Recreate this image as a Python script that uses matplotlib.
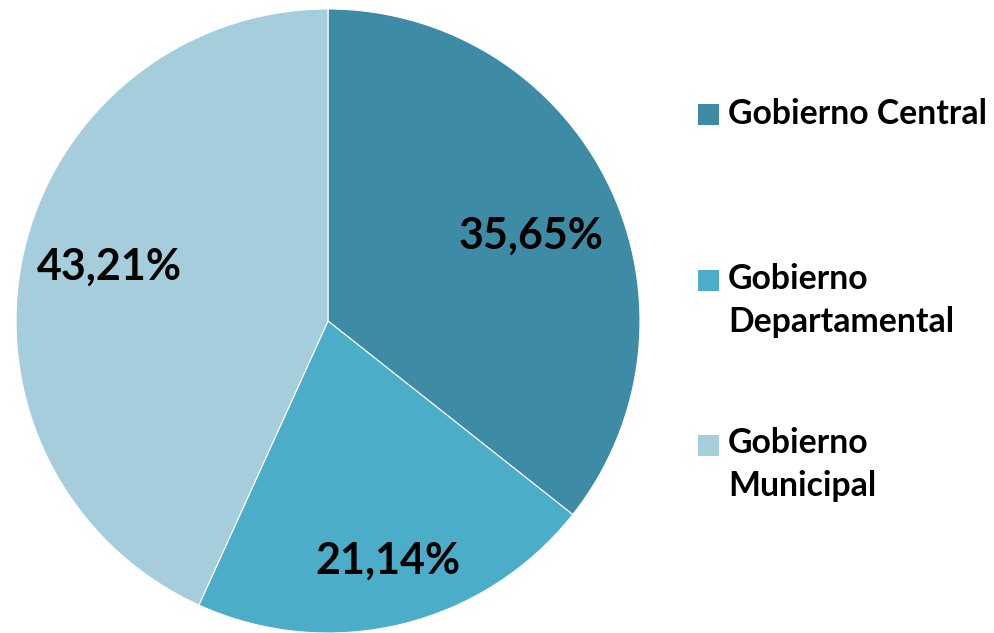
import numpy as np
import matplotlib.pyplot as plt
from matplotlib.patches import Rectangle

categories = ["Gobierno Central", "Gobierno Departamental", "Gobierno Municipal"]
legend_lines = [["Gobierno Central"], ["Gobierno", "Departamental"], ["Gobierno", "Municipal"]]
shares = [35.65, 21.14, 43.21]
colors = ["#3E8BA5", "#4BADC7", "#A6CDDC"]
# label placement: radial distance and angular nudge (degrees) from slice middle
label_dist = [0.706, 0.791, 0.723]
label_turn = [-3.0, 0.5, -1.8]

W, H = 994, 633
fig = plt.figure(figsize=(W / 100, H / 100), dpi=100)
fig.patch.set_facecolor("white")

cx, cy, r = 328, 321, 312
ax = fig.add_axes([(cx - r) / W, (H - cy - r) / H, 2 * r / W, 2 * r / H])
wedges, _ = ax.pie(shares, colors=colors, startangle=90, counterclock=False,
                   radius=1.0, wedgeprops=dict(edgecolor="white", linewidth=0.8))
ax.set_xlim(-1, 1)
ax.set_ylim(-1, 1)
ax.set_aspect("equal")
ax.axis("off")

font = "Lato"
for w, val, d, t in zip(wedges, shares, label_dist, label_turn):
    mid = np.deg2rad((w.theta1 + w.theta2) / 2 + t)
    ax.text(d * np.cos(mid), d * np.sin(mid), f"{val:.2f}".replace(".", ",") + "%",
            ha="center", va="center", fontsize=31, fontweight="bold",
            family=font, color="black")

# legend drawn in pixel coordinates
sq_tops = [104, 270, 435]
baselines = [124, 289, 453]
line_gap = 43
for c, lines, top, base in zip(colors, legend_lines, sq_tops, baselines):
    fig.patches.append(Rectangle((698 / W, 1 - (top + 21) / H), 21 / W, 21 / H,
                                 transform=fig.transFigure, facecolor=c,
                                 edgecolor="none"))
    for i, line in enumerate(lines):
        fig.text(728 / W, 1 - (base + i * line_gap) / H, line, ha="left",
                 va="baseline", fontsize=24.3, fontweight="bold", family=font,
                 color="black")

fig.savefig("out.png", dpi=100, facecolor="white")
